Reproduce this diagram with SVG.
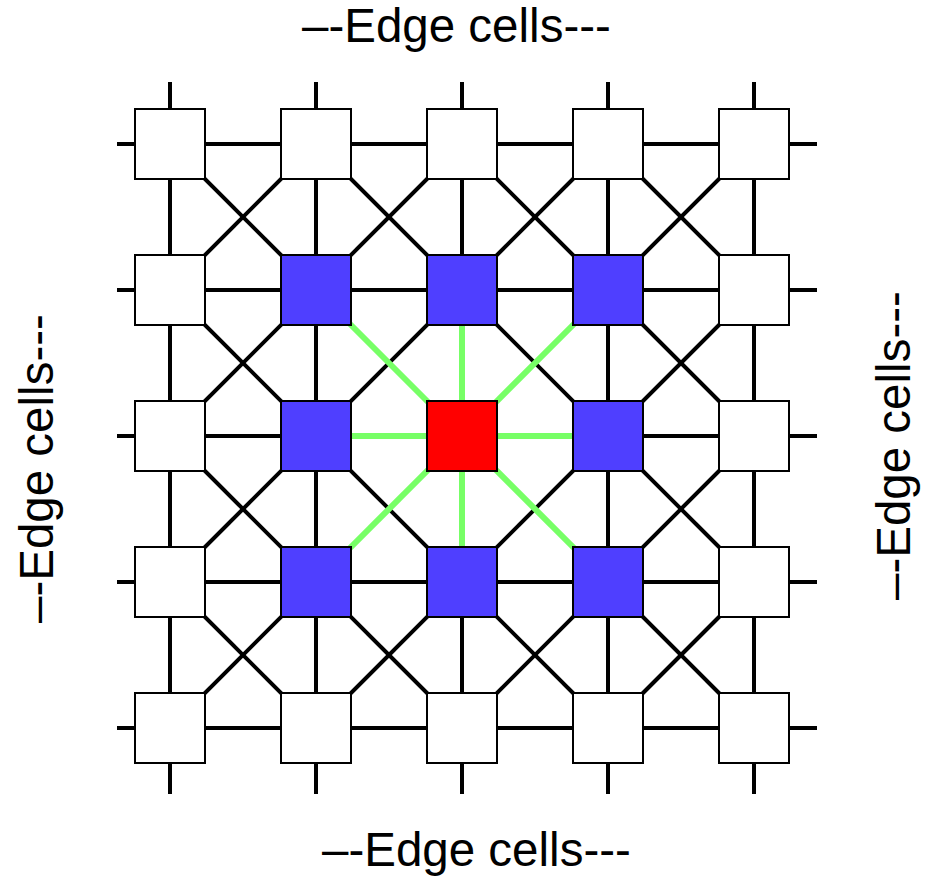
<svg xmlns="http://www.w3.org/2000/svg" width="933" height="877" viewBox="0 0 933 877">
<style>
.c{stroke:#000;stroke-width:2}
.w{fill:#fff}
.b{fill:#4f3fff}
.r{fill:#ff0000}
.k line{stroke:#000;stroke-width:4}
.g line{stroke:#77ff66;stroke-width:6}
text{font-family:"Liberation Sans",Arial,sans-serif;font-size:47.5px;fill:#000}
</style>
<rect width="933" height="877" fill="#fff"/>
<g id="connectors">
<g class="k">
<line x1="117" y1="144" x2="817" y2="144"/>
<line x1="117" y1="290" x2="817" y2="290"/>
<line x1="117" y1="436" x2="817" y2="436"/>
<line x1="117" y1="582" x2="817" y2="582"/>
<line x1="117" y1="728" x2="817" y2="728"/>
<line x1="170" y1="82" x2="170" y2="794"/>
<line x1="316" y1="82" x2="316" y2="794"/>
<line x1="462" y1="82" x2="462" y2="794"/>
<line x1="608" y1="82" x2="608" y2="794"/>
<line x1="754" y1="82" x2="754" y2="794"/>
<line x1="170" y1="144" x2="754" y2="728"/>
<line x1="316" y1="144" x2="754" y2="582"/>
<line x1="462" y1="144" x2="754" y2="436"/>
<line x1="608" y1="144" x2="754" y2="290"/>
<line x1="170" y1="290" x2="608" y2="728"/>
<line x1="170" y1="436" x2="462" y2="728"/>
<line x1="170" y1="582" x2="316" y2="728"/>
<line x1="754" y1="144" x2="170" y2="728"/>
<line x1="608" y1="144" x2="170" y2="582"/>
<line x1="462" y1="144" x2="170" y2="436"/>
<line x1="316" y1="144" x2="170" y2="290"/>
<line x1="754" y1="290" x2="316" y2="728"/>
<line x1="754" y1="436" x2="462" y2="728"/>
<line x1="754" y1="582" x2="608" y2="728"/>
</g>
<g class="g">
<line x1="462" y1="436" x2="316" y2="290"/>
<line x1="462" y1="436" x2="462" y2="290"/>
<line x1="462" y1="436" x2="608" y2="290"/>
<line x1="462" y1="436" x2="316" y2="436"/>
<line x1="462" y1="436" x2="608" y2="436"/>
<line x1="462" y1="436" x2="316" y2="582"/>
<line x1="462" y1="436" x2="462" y2="582"/>
<line x1="462" y1="436" x2="608" y2="582"/>
</g>
</g>
<g id="n11"><rect class="c w" x="135" y="109" width="70" height="70"/></g>
<g id="n12"><rect class="c w" x="281" y="109" width="70" height="70"/></g>
<g id="n13"><rect class="c w" x="427" y="109" width="70" height="70"/></g>
<g id="n14"><rect class="c w" x="573" y="109" width="70" height="70"/></g>
<g id="n15"><rect class="c w" x="719" y="109" width="70" height="70"/></g>
<g id="n21"><rect class="c w" x="135" y="255" width="70" height="70"/></g>
<g id="n22"><rect class="c b" x="281" y="255" width="70" height="70"/></g>
<g id="n23"><rect class="c b" x="427" y="255" width="70" height="70"/></g>
<g id="n24"><rect class="c b" x="573" y="255" width="70" height="70"/></g>
<g id="n25"><rect class="c w" x="719" y="255" width="70" height="70"/></g>
<g id="n31"><rect class="c w" x="135" y="401" width="70" height="70"/></g>
<g id="n32"><rect class="c b" x="281" y="401" width="70" height="70"/></g>
<g id="n33"><rect class="c r" x="427" y="401" width="70" height="70"/></g>
<g id="n34"><rect class="c b" x="573" y="401" width="70" height="70"/></g>
<g id="n35"><rect class="c w" x="719" y="401" width="70" height="70"/></g>
<g id="n41"><rect class="c w" x="135" y="547" width="70" height="70"/></g>
<g id="n42"><rect class="c b" x="281" y="547" width="70" height="70"/></g>
<g id="n43"><rect class="c b" x="427" y="547" width="70" height="70"/></g>
<g id="n44"><rect class="c b" x="573" y="547" width="70" height="70"/></g>
<g id="n45"><rect class="c w" x="719" y="547" width="70" height="70"/></g>
<g id="n51"><rect class="c w" x="135" y="693" width="70" height="70"/></g>
<g id="n52"><rect class="c w" x="281" y="693" width="70" height="70"/></g>
<g id="n53"><rect class="c w" x="427" y="693" width="70" height="70"/></g>
<g id="n54"><rect class="c w" x="573" y="693" width="70" height="70"/></g>
<g id="n55"><rect class="c w" x="719" y="693" width="70" height="70"/></g>
<g id="labels">
<text x="302" y="42">–-Edge cells---</text>
<text x="322" y="866">–-Edge cells---</text>
<text transform="translate(53,623) rotate(-90)">–-Edge cells---</text>
<text transform="translate(910,600) rotate(-90)">–-Edge cells---</text>
</g>
</svg>
